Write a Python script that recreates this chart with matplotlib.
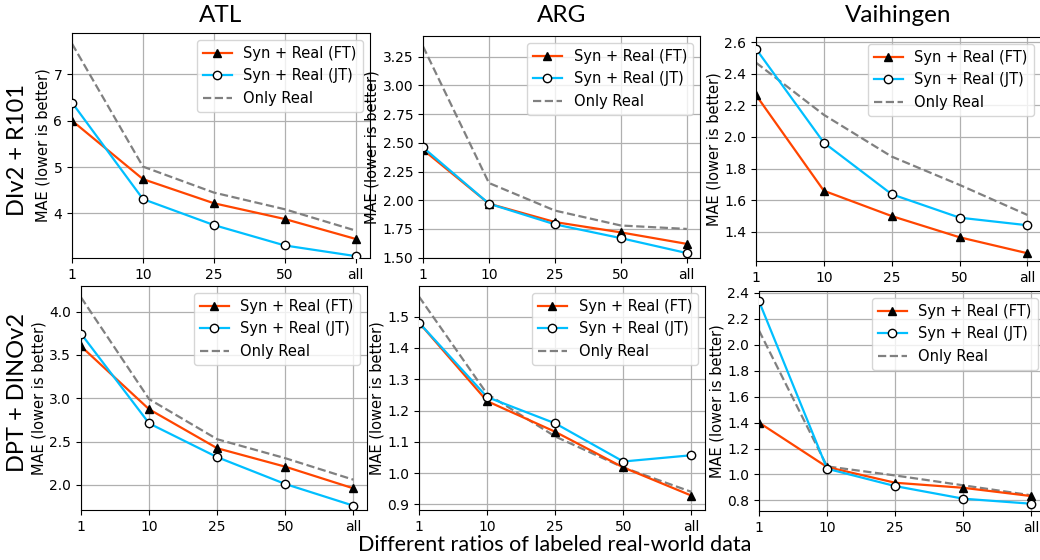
import matplotlib
matplotlib.use("Agg")
from matplotlib import pyplot as plt
from matplotlib.ticker import MultipleLocator

# x axis categories (ratios of labeled real data)
ratios = ["1", "10", "25", "50", "all"]
datasets = ["ATL", "ARG", "Vaihingen"]
models = ["DIv2 + R101", "DPT + DINOv2"]

# MAE values, row 1: DIv2 + R101
atl_ft_1 = [6.00, 4.74, 4.22, 3.88, 3.45]
atl_jt_1 = [6.39, 4.31, 3.75, 3.31, 3.08]
atl_real_1 = [7.66, 5.01, 4.45, 4.09, 3.63]

arg_ft_1 = [2.44, 1.97, 1.81, 1.72, 1.62]
arg_jt_1 = [2.46, 1.97, 1.79, 1.67, 1.54]
arg_real_1 = [3.34, 2.15, 1.91, 1.78, 1.75]

vai_ft_1 = [2.265, 1.66, 1.50, 1.366, 1.265]
vai_jt_1 = [2.557, 1.964, 1.638, 1.49, 1.442]
vai_real_1 = [2.47, 2.14, 1.876, 1.697, 1.507]

# row 2: DPT + DINOv2
atl_ft_2 = [3.60, 2.873, 2.423, 2.21, 1.96]
atl_jt_2 = [3.746, 2.71, 2.32, 2.01, 1.76]
atl_real_2 = [4.165, 2.99, 2.527, 2.308, 2.06]

arg_ft_2 = [1.481, 1.23, 1.132, 1.018, 0.928]
arg_jt_2 = [1.481, 1.243, 1.159, 1.037, 1.057]
arg_real_2 = [1.564, 1.253, 1.117, 1.018, 0.94]

vai_ft_2 = [1.40, 1.057, 0.936, 0.897, 0.833]
vai_jt_2 = [2.336, 1.044, 0.910, 0.813, 0.774]
vai_real_2 = [2.11, 1.062, 0.992, 0.916, 0.839]

series = [
    [(atl_ft_1, atl_jt_1, atl_real_1), (arg_ft_1, arg_jt_1, arg_real_1), (vai_ft_1, vai_jt_1, vai_real_1)],
    [(atl_ft_2, atl_jt_2, atl_real_2), (arg_ft_2, arg_jt_2, arg_real_2), (vai_ft_2, vai_jt_2, vai_real_2)],
]

# y limits and tick steps of each panel
ylims = [
    [(3.04, 7.89), (1.497, 3.43), (1.216, 2.632)],
    [(1.71, 4.296), (0.882, 1.598), (0.718, 2.415)],
]
ysteps = [
    [1.0, 0.25, 0.2],
    [0.5, 0.1, 0.2],
]

# axes boxes in pixels: left, right, top, bottom
boxes = [
    [(72, 370, 33, 258), (423, 700, 36, 258), (756, 1041, 37, 261)],
    [(81, 367, 286, 510), (419, 705, 286, 510), (759, 1045, 291, 511)],
]

W, H = 1040, 560
fig = plt.figure(figsize=(W / 100, H / 100), dpi=100)

x = list(range(len(ratios)))
title_font = ["Lato", "DejaVu Sans"]

for r in range(2):
    for c in range(3):
        l, rr, t, b = boxes[r][c]
        ax = fig.add_axes([l / W, 1 - b / H, (rr - l) / W, (b - t) / H])
        ft, jt, real = series[r][c]
        ax.plot(x, ft, color="#ff4500", lw=1.6, marker="^", ms=6,
                mfc="black", mec="black", label="Syn + Real (FT)", zorder=3)
        ax.plot(x, jt, color="#00bfff", lw=1.6, marker="o", ms=6,
                mfc="white", mec="black", label="Syn + Real (JT)", zorder=3)
        ax.plot(x, real, color="gray", lw=1.6, ls="--", label="Only Real", zorder=2)
        ax.set_xticks(x)
        ax.set_xticklabels(ratios)
        ax.set_xlim(0, 4.2)
        ax.set_ylim(*ylims[r][c])
        ax.yaxis.set_major_locator(MultipleLocator(ysteps[r][c]))
        ax.grid(True, color="#b0b0b0", lw=0.9)
        ax.set_axisbelow(True)
        ax.tick_params(labelsize=10)
        ax.set_ylabel("MAE (lower is better)", fontsize=10.5, labelpad=2)
        ax.legend(loc="upper right", fontsize=10.5)

# column titles
for c, name in enumerate(datasets):
    l, rr, t, b = boxes[0][c]
    fig.text((l + rr) / 2 / W, 1 - 16 / H, name, ha="center", va="center",
             fontsize=17.5, family=title_font)

# row labels
fig.text(18 / W, 1 - 150 / H, models[0], rotation=90, ha="center", va="center",
         fontsize=17, family=title_font)
fig.text(18 / W, 1 - 392 / H, models[1], rotation=90, ha="center", va="center",
         fontsize=17, family=title_font)

fig.text(555 / W, 1 - 545 / H, "Different ratios of labeled real-world data",
         ha="center", va="center", fontsize=15.5, family=title_font)

fig.savefig("out.png", dpi=100)
